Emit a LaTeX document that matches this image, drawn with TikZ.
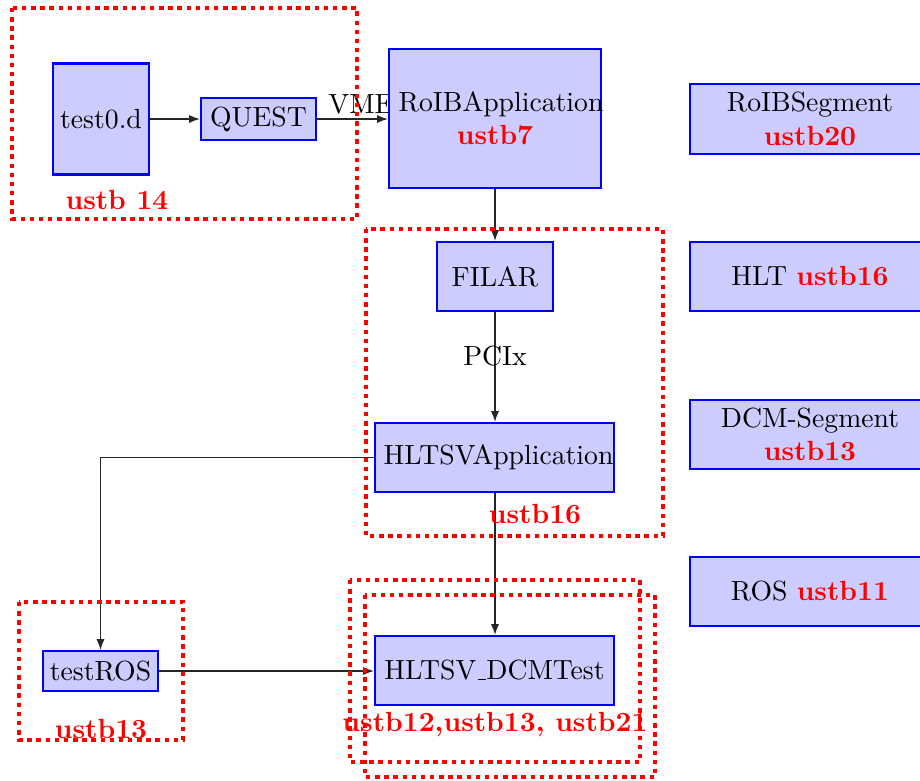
\documentclass[tikz,border=0pt]{standalone}
\usetikzlibrary{arrows.meta}
\pgfdeclarelayer{bg}
\pgfsetlayers{bg,main}
% baseline rule underscore, as in the classic OT1 fonts
\newcommand\lowbar{\leavevmode\kern.06em\vbox{\hrule width.3em}}
\begin{document}
\begin{tikzpicture}[x=0.3717pt,y=-0.3717pt,
  every node/.style={font=\fontsize{10.3}{12.4}\selectfont},
  sz/.style 2 args={minimum width=#1*0.3717pt, minimum height=#2*0.3717pt},
  blk/.style={draw=blue, fill=blue!20, thick, inner sep=0pt, align=center},
  grp/.style={draw=red, line width=1.65pt, dash pattern=on 1.65pt off 1.75pt},
  tag/.style={text=red, font=\fontsize{10.3}{12.4}\selectfont\bfseries, inner sep=0pt},
  link/.style={draw=black!85, line width=0.5pt, -{Latex[length=4pt,width=3pt]}},
  lbl/.style={inner sep=0pt}]
\clip (0,0) rectangle (920,780);

% grouping frames
\draw[grp] (12,8) rectangle (357,219);
\draw[grp] (366,229) rectangle (663,536);
\draw[grp] (19,602) rectangle (183,740);
\draw[grp] (350,580) rectangle (640,762);
\draw[grp] (365,595) rectangle (655,777);

% components
\node[blk, sz={96}{111}] (test) at (101,119) {test0.d};
\node[blk, sz={115}{42}] (quest) at (258.5,119) {QUEST};
\node[blk, sz={212}{139}] (roib) at (495,118.5) {\makebox[0pt]{\hspace*{4.5pt}RoIBApplication}\\\textcolor{red}{\bfseries ustb7}};
\node[blk, sz={116}{69}] (filar) at (495,276.5) {FILAR};
\node[blk, sz={239}{69}] (hltsv) at (494.5,457.5) {\makebox[0pt]{\hspace*{3pt}HLTSVApplication}};
\node[blk, sz={115}{40}] (testros) at (100.5,671) {testROS};
\node[blk, sz={239}{69}] (dcmtest) at (494.5,670.5) {HLTSV\lowbar DCMTest};

% segments column
\node[blk, sz={240}{70}] (roibseg) at (810,119) {RoIBSegment\\\textcolor{red}{\bfseries ustb20}};
\node[blk, sz={240}{69}] (hlt) at (810,276.5) {HLT \textcolor{red}{\bfseries ustb16}};
\node[blk, sz={240}{69}] (dcmseg) at (810,434.5) {DCM-Segment\\\textcolor{red}{\bfseries ustb13}};
\node[blk, sz={240}{69}] (ros) at (810,591.5) {ROS \textcolor{red}{\bfseries ustb11}};

% host labels
\node[tag] (h14) at (117,200) {ustb 14};
\node[tag] (h16) at (535,514.5) {ustb16};
\node[tag] (h13) at (101,729) {ustb13};
\node[tag] (h12) at (495,725) {ustb12,ustb13, ustb21};

% connectors
\begin{pgfonlayer}{bg}
\draw[link] (test) -- (quest);
\draw[link] (quest) -- (quest.east -| roib.west);
\node[lbl] (vme) at (361,104) {VME};
\draw[link] (roib) -- (filar);
\draw[link] (filar.south) -- node[lbl, pos=0.4] {PCIx} (filar.south |- hltsv.north);
\draw[link] (hltsv.south -| filar.south) -- (filar.south |- dcmtest.north);
\draw[link] (hltsv.west) -| (testros.north);
\draw[link] (testros.east) -- (testros.east -| dcmtest.west);
\end{pgfonlayer}
\end{tikzpicture}
\end{document}
